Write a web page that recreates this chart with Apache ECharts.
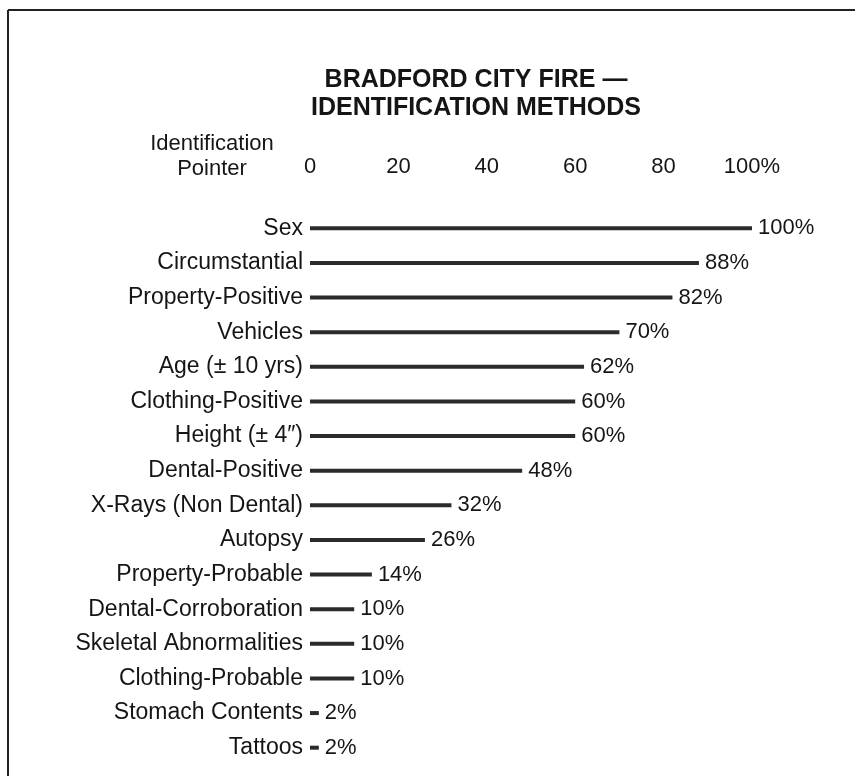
<!DOCTYPE html>
<html>
<head>
<meta charset="utf-8">
<script src="https://cdn.jsdelivr.net/npm/echarts@6/dist/echarts.min.js"></script>
<style>
html,body{margin:0;padding:0;background:#fff;}
#chart{width:863px;height:776px;}
</style>
</head>
<body>
<div id="chart"></div>
<script>
const titleLines = ['BRADFORD CITY FIRE \u2014', 'IDENTIFICATION METHODS'];
const axisTitle = ['Identification', 'Pointer'];
const categories = [
  'Sex', 'Circumstantial', 'Property-Positive', 'Vehicles',
  'Age (\u00b1 10 yrs)', 'Clothing-Positive', 'Height (\u00b1 4\u2033)', 'Dental-Positive',
  'X-Rays (Non Dental)', 'Autopsy', 'Property-Probable', 'Dental-Corroboration',
  'Skeletal Abnormalities', 'Clothing-Probable', 'Stomach Contents', 'Tattoos'
];
const percentages = [100, 88, 82, 70, 62, 60, 60, 48, 32, 26, 14, 10, 10, 10, 2, 2];
const tickValues = [0, 20, 40, 60, 80, 100];

const FONT = '"Liberation Sans", Arial, Helvetica, sans-serif';
const INK = '#151515';

const chart = echarts.init(document.getElementById('chart'), null, {renderer: 'canvas'});
chart.setOption({
  backgroundColor: '#ffffff',
  animation: false,
  title: {
    text: titleLines.join('\n'),
    left: 471,
    textAlign: 'center',
    top: 61,
    textStyle: {fontFamily: FONT, fontWeight: 'bold', fontSize: 25, lineHeight: 28, color: INK}
  },
  graphic: [
    {type: 'line', shape: {x1: 8, y1: 10, x2: 855, y2: 10}, style: {stroke: '#222', lineWidth: 2}},
    {type: 'line', shape: {x1: 8, y1: 10, x2: 8, y2: 776}, style: {stroke: '#222', lineWidth: 2}},
    {type: 'text', x: 212, y: 131, style: {
      text: axisTitle.join('\n'), textAlign: 'center',
      font: '22px ' + FONT, fill: INK, lineHeight: 25
    }}
  ],
  grid: {left: 310, right: 111, top: 211, bottom: 11, containLabel: false},
  xAxis: {
    type: 'value', position: 'top', min: 0, max: 100, interval: 20,
    axisLine: {show: false}, axisTick: {show: false}, splitLine: {show: false},
    axisLabel: {
      margin: 33, fontFamily: FONT, fontSize: 22, color: INK,
      formatter: v => tickValues.indexOf(v) === tickValues.length - 1 ? v + '%' : String(v)
    }
  },
  yAxis: {
    type: 'category', data: categories, inverse: true,
    axisLine: {show: false}, axisTick: {show: false},
    axisLabel: {margin: 7, fontFamily: FONT, fontSize: 23, color: INK}
  },
  series: [{
    type: 'bar', data: percentages, barWidth: 4,
    itemStyle: {color: '#2b2b2b'},
    label: {show: true, position: 'right', distance: 6, formatter: '{c}%',
      fontFamily: FONT, fontSize: 22, color: INK}
  }]
});
</script>
</body>
</html>
